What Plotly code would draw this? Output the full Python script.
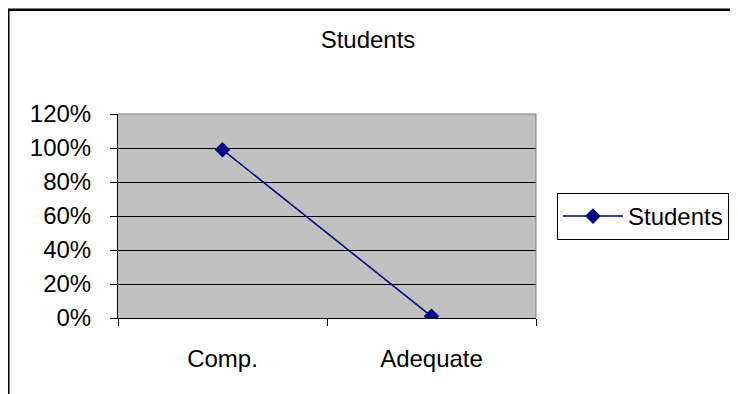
import plotly.graph_objects as go

categories = ["Comp.", "Adequate"]
students = [0.99, 0.01]
y_ticks = [0, 0.2, 0.4, 0.6, 0.8, 1.0, 1.2]
y_tick_labels = ["0%", "20%", "40%", "60%", "80%", "100%", "120%"]

W, H = 738, 394
L, R, T, B = 110, 528, 106, 310

def px_x(x):
    return (x - L) / (R - L)

def px_y(y):
    return (B - y) / (B - T)

FONT = "Liberation Sans, Arial, sans-serif"

fig = go.Figure()
fig.add_trace(go.Scatter(
    x=categories, y=students, mode="lines+markers", name="Students",
    line=dict(color="#000080", width=1.5),
    marker=dict(symbol="diamond", size=12, color="#000080"),
))

fig.update_layout(
    width=W, height=H,
    margin=dict(l=L, r=W - R, t=T, b=H - B, autoexpand=False),
    paper_bgcolor="white",
    plot_bgcolor="#C0C0C0",
    font=dict(family=FONT, size=24, color="black"),
    title=dict(text="Students", x=(368 - 8) / W, xanchor="center", y=1 - 32 / H, yanchor="middle",
               font=dict(family=FONT, size=24, color="black")),
    showlegend=True,
    legend=dict(x=px_x(549), y=px_y(185), xanchor="left", yanchor="top",
                bordercolor="black", borderwidth=1, bgcolor="white", itemwidth=60,
                font=dict(family=FONT, size=24, color="black")),
    xaxis=dict(type="category", showgrid=False, showline=True, linecolor="black", linewidth=1,
               ticks="outside", tickson="boundaries", ticklen=7, tickcolor="black",
               ticklabelstandoff=19, range=[-0.5, 1.5], zeroline=False),
    yaxis=dict(range=[0, 1.2], tickvals=y_ticks, ticktext=y_tick_labels,
               showgrid=True, gridcolor="black", gridwidth=1,
               showline=True, linecolor="black", linewidth=1,
               ticks="outside", ticklen=7, tickcolor="black",
               ticklabelstandoff=14, zeroline=False),
    shapes=[
        dict(type="line", xref="paper", yref="paper", x0=0, x1=1, y0=1, y1=1,
             line=dict(color="#808080", width=1), layer="above"),
        dict(type="line", xref="paper", yref="paper", x0=1, x1=1, y0=0, y1=1,
             line=dict(color="#808080", width=1), layer="above"),
        dict(type="line", xref="paper", yref="paper", x0=px_x(0), x1=px_x(W + 5), y0=px_y(0.5), y1=px_y(0.5),
             line=dict(color="#808080", width=1)),
        dict(type="line", xref="paper", yref="paper", x0=px_x(0), x1=px_x(W + 5), y0=px_y(2), y1=px_y(2),
             line=dict(color="black", width=2)),
        dict(type="line", xref="paper", yref="paper", x0=px_x(0.5), x1=px_x(0.5), y0=px_y(1), y1=px_y(H + 5),
             line=dict(color="black", width=2)),
    ],
)

fig.write_html("out.html")
